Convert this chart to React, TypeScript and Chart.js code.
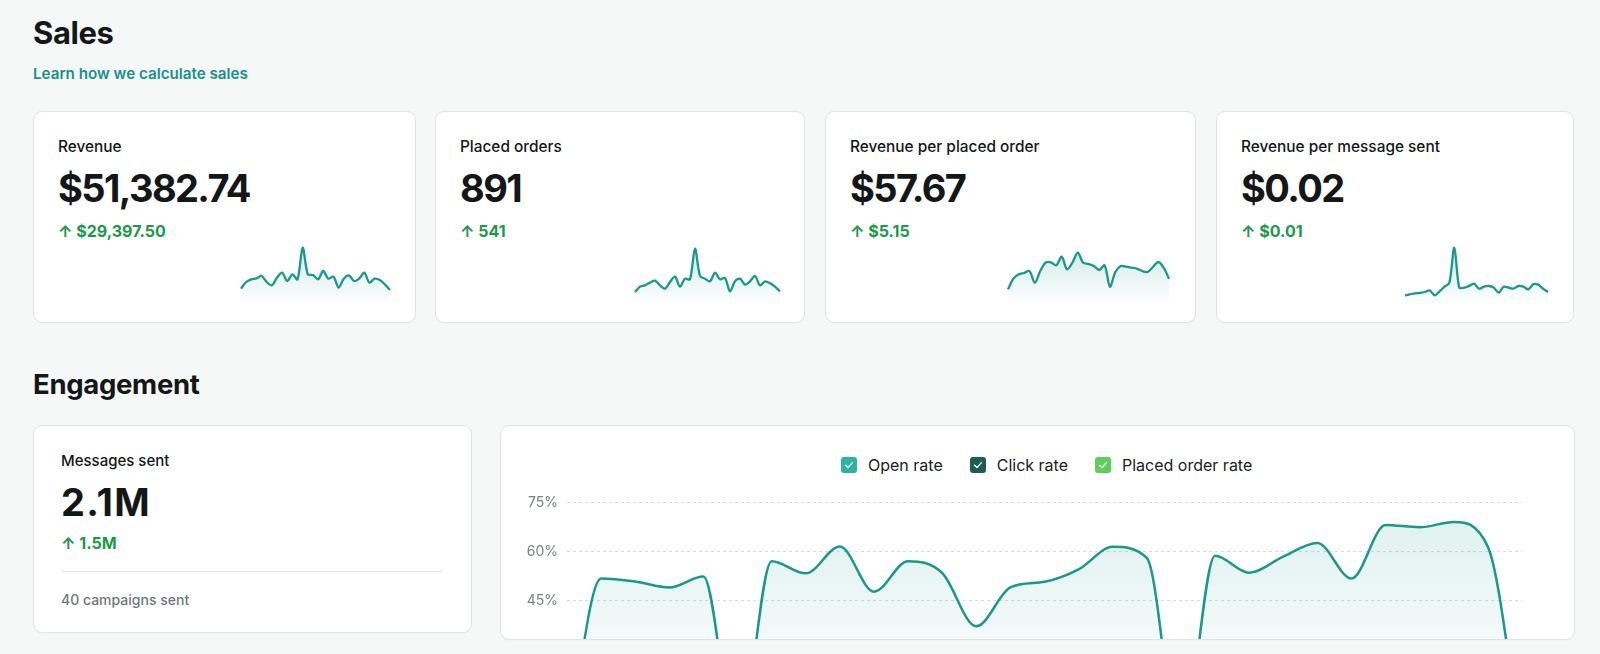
import React, { useEffect, useRef } from "react";
import { Chart, registerables } from "chart.js";

Chart.register(...registerables);
Chart.defaults.font.family = "Inter, 'Open Sans', sans-serif";

// ---------- data ----------
const days = [
  "Mar 1", "Mar 2", "Mar 3", "Mar 4", "Mar 5", "Mar 6", "Mar 7", "Mar 8", "Mar 9", "Mar 10",
  "Mar 11", "Mar 12", "Mar 13", "Mar 14", "Mar 15", "Mar 16", "Mar 17", "Mar 18", "Mar 19", "Mar 20",
  "Mar 21", "Mar 22", "Mar 23", "Mar 24", "Mar 25", "Mar 26", "Mar 27", "Mar 28", "Mar 29", "Mar 30",
  "Mar 31",
];

const revenueDaily = [510, 1110, 1350, 1440, 1650, 1110, 810, 1500, 1950, 1200, 1800, 1350, 4200, 1800, 1740, 1350, 2100, 1410, 1590, 600, 1410, 1710, 1200, 1410, 1950, 1050, 1410, 1290, 900, 390];
const ordersDaily = [11, 19, 21, 25, 28, 21, 16, 26, 34, 19, 31, 30, 76, 35, 31, 27, 40, 30, 32, 12, 27, 31, 22, 27, 35, 21, 27, 24, 19, 12];
const revenuePerOrderDaily = [40.0, 48.0, 51.25, 52.25, 53.75, 45.0, 53.75, 60.0, 60.25, 58.0, 64.5, 55.0, 60.0, 67.5, 60.0, 59.0, 57.5, 54.5, 58.0, 42.0, 53.0, 57.5, 57.0, 56.25, 55.5, 53.75, 53.0, 56.75, 60.5, 56.25, 48.0];
const revenuePerMessageDaily = [0.011, 0.0125, 0.014, 0.0145, 0.016, 0.0185, 0.011, 0.017, 0.024, 0.03, 0.0825, 0.0225, 0.0225, 0.025, 0.0285, 0.021, 0.024, 0.025, 0.0225, 0.015, 0.024, 0.0225, 0.021, 0.025, 0.024, 0.02, 0.0275, 0.027, 0.021, 0.016];

const openRate = [0, 51.7, 50.8, 49.0, 52.3, 0, 57.0, 53.3, 61.5, 47.7, 57.0, 53.4, 37.1, 49.0, 50.7, 54.5, 61.4, 58.0, 0, 58.7, 53.5, 58.4, 62.6, 51.7, 68.1, 67.4, 69.0, 61.4, 0];

const rateTicks = [0, 15, 30, 45, 60, 75];
const legendItems = ["Open rate", "Click rate", "Placed order rate"];
const legendColors = ["#2bb3a6", "#1c5e57", "#5ccf5b"];

const TEAL = "#18998b";
const GREEN = "#1b9a4a";
const INK = "#141717";

// ---------- helpers ----------
type TxtProps = { x: number; y: number; size: number; weight?: number; color?: string; ls?: number; children: React.ReactNode };
const Txt = ({ x, y, size, weight = 400, color = INK, ls = 0, children }: TxtProps) => (
  <div
    style={{
      position: "absolute",
      left: x,
      top: y,
      fontSize: size,
      lineHeight: `${size}px`,
      fontWeight: weight,
      color,
      letterSpacing: ls,
      whiteSpace: "nowrap",
    }}
  >
    {children}
  </div>
);

const cardStyle = (x: number, y: number, w: number, h: number, clip = false): React.CSSProperties => ({
  position: "absolute",
  left: x,
  top: y,
  width: w,
  height: h,
  boxSizing: "border-box",
  background: "#ffffff",
  border: "1px solid #e1e4e4",
  borderRadius: 9,
  overflow: clip ? "hidden" : "visible",
  boxShadow: "0 1px 2px rgba(0,0,0,0.02)",
});

type SparkProps = { data: number[]; min: number; max: number; left: number; top: number; width: number; height: number };
function Sparkline({ data, min, max, left, top, width, height }: SparkProps) {
  const ref = useRef<HTMLCanvasElement>(null);
  useEffect(() => {
    const chart = new Chart(ref.current!, {
      type: "line",
      data: {
        labels: days.slice(0, data.length),
        datasets: [
          {
            data,
            borderColor: TEAL,
            borderWidth: 2.3,
            pointRadius: 0,
            tension: 0.3,
            fill: "start",
            backgroundColor: (ctx: any) => {
              const { chart } = ctx;
              const area = chart.chartArea;
              if (!area) return "rgba(0,0,0,0)";
              const g = chart.ctx.createLinearGradient(0, area.top + 12, 0, area.bottom);
              g.addColorStop(0, "rgba(23,153,139,0.20)");
              g.addColorStop(1, "rgba(23,153,139,0)");
              return g;
            },
          },
        ],
      },
      options: {
        animation: false,
        responsive: false,
        maintainAspectRatio: false,
        layout: { padding: { left: 2, right: 2, top: 0, bottom: 0 } },
        plugins: { legend: { display: false }, tooltip: { enabled: false } },
        scales: {
          x: { display: false },
          y: { display: false, min, max },
        },
      },
    });
    return () => chart.destroy();
  }, []);
  return (
    <canvas
      ref={ref}
      width={width}
      height={height}
      style={{ position: "absolute", left, top, width, height }}
    />
  );
}

type KpiProps = {
  x: number; w: number; label: string; value: string; delta: string;
  data: number[]; min: number; max: number; sparkLeft: number; sparkWidth: number;
};
function KpiCard({ x, w, label, value, delta, data, min, max, sparkLeft, sparkWidth }: KpiProps) {
  const y = 111;
  const ox = x + 1;
  const oy = y + 1;
  return (
    <div style={cardStyle(x, y, w, 212)}>
      <Txt x={24} y={139 - oy} size={15.4} weight={500}>{label}</Txt>
      <Txt x={24} y={169 - oy} size={38} weight={700} ls={-1.6}>{value}</Txt>
      <Txt x={24} y={222.8 - oy} size={16} weight={700} color={GREEN}>{delta}</Txt>
      <Sparkline data={data} min={min} max={max} left={sparkLeft - ox} top={236 - oy} width={sparkWidth} height={70} />
    </div>
  );
}

function EngagementChart() {
  const ref = useRef<HTMLCanvasElement>(null);
  useEffect(() => {
    const chart = new Chart(ref.current!, {
      type: "line",
      data: {
        labels: days.slice(0, openRate.length),
        datasets: [
          {
            label: legendItems[0],
            data: openRate,
            borderColor: TEAL,
            borderWidth: 2.5,
            pointRadius: 0,
            cubicInterpolationMode: "monotone",
            fill: "origin",
            backgroundColor: (ctx: any) => {
              const { chart } = ctx;
              const area = chart.chartArea;
              if (!area) return "rgba(0,0,0,0)";
              const g = chart.ctx.createLinearGradient(0, area.top + 30, 0, area.top + 150);
              g.addColorStop(0, "rgba(23,153,139,0.13)");
              g.addColorStop(1, "rgba(23,153,139,0.04)");
              return g;
            },
          },
        ],
      },
      options: {
        animation: false,
        responsive: false,
        maintainAspectRatio: false,
        layout: { padding: 0 },
        plugins: { legend: { display: false }, tooltip: { enabled: false } },
        scales: {
          x: { display: false },
          y: {
            min: rateTicks[0],
            max: rateTicks[rateTicks.length - 1],
            afterFit: (s: any) => {
              s.width = 53;
            },
            afterBuildTicks: (s: any) => {
              s.ticks = rateTicks.map((v) => ({ value: v }));
            },
            ticks: {
              padding: 9,
              color: "#7b8182",
              font: { size: 14, lineHeight: 1.2 },
              callback: (v: any) => `${v}%`,
            },
            grid: { color: "#d9dddd", drawTicks: false, lineWidth: 1 },
            border: { display: false, dash: [3, 3] },
          },
        },
      },
    });
    return () => chart.destroy();
  }, []);
  return (
    <canvas
      ref={ref}
      width={1008}
      height={280}
      style={{ position: "absolute", left: 514 - 501, top: 485 - 426, width: 1008, height: 280 }}
    />
  );
}

const Check = ({ color }: { color: string }) => (
  <svg width={16} height={16} style={{ display: "block" }}>
    <rect x={0} y={0} width={16} height={16} rx={3} fill={color} />
    <path d="M4.6 8.3 L7 10.6 L11.4 5.6" stroke="#ffffff" strokeWidth={1.4} fill="none" strokeLinecap="round" strokeLinejoin="round" />
  </svg>
);

export default function App() {
  return (
    <div
      style={{
        position: "fixed",
        inset: 0,
        background: "#f6f7f7",
        fontFamily: "Inter, 'Open Sans', sans-serif",
        overflow: "hidden",
      }}
    >
      <Txt x={33} y={16.8} size={31} weight={700} ls={-0.4}>Sales</Txt>
      <Txt x={33} y={66.2} size={15.2} weight={600} color="#15938a">Learn how we calculate sales</Txt>

      <KpiCard x={33} w={383} label="Revenue" value="$51,382.74" delta="↑ $29,397.50"
        data={revenueDaily} min={-1050} max={5250} sparkLeft={239} sparkWidth={153} />
      <KpiCard x={435} w={370} label="Placed orders" value="891" delta="↑ 541"
        data={ordersDaily} min={-10} max={95} sparkLeft={633} sparkWidth={149} />
      <KpiCard x={825} w={371} label="Revenue per placed order" value="$57.67" delta="↑ $5.15"
        data={revenuePerOrderDaily} min={27.5} max={80} sparkLeft={1006} sparkWidth={165} />
      <KpiCard x={1216} w={358} label="Revenue per message sent" value="$0.02" delta="↑ $0.01"
        data={revenuePerMessageDaily} min={-0.005} max={0.1} sparkLeft={1403} sparkWidth={147} />

      <Txt x={33} y={371} size={27.5} weight={700} ls={-0.3}>Engagement</Txt>

      <div style={cardStyle(33, 425, 439, 208)}>
        <Txt x={27} y={27} size={15} weight={500}>Messages sent</Txt>
        <Txt x={27} y={57} size={38} weight={700} ls={1.2}>2.1M</Txt>
        <Txt x={27} y={109} size={16} weight={700} color={GREEN}>↑ 1.5M</Txt>
        <div style={{ position: "absolute", left: 27, top: 145, width: 382, height: 1, background: "#e4e7e7" }} />
        <Txt x={27} y={167} size={14} weight={500} color="#6f7779">40 campaigns sent</Txt>
      </div>

      <div style={cardStyle(500, 425, 1075, 215, true)}>
        <div
          style={{
            position: "absolute",
            left: 841 - 501,
            top: 457 - 426,
            display: "flex",
            alignItems: "center",
            gap: 27,
          }}
        >
          {legendItems.map((name, i) => (
            <div key={name} style={{ display: "flex", alignItems: "center", gap: 11 }}>
              <Check color={legendColors[i]} />
              <span style={{ fontSize: 16, lineHeight: "16px", color: "#1d2122", whiteSpace: "nowrap" }}>{name}</span>
            </div>
          ))}
        </div>
        <EngagementChart />
      </div>
    </div>
  );
}
